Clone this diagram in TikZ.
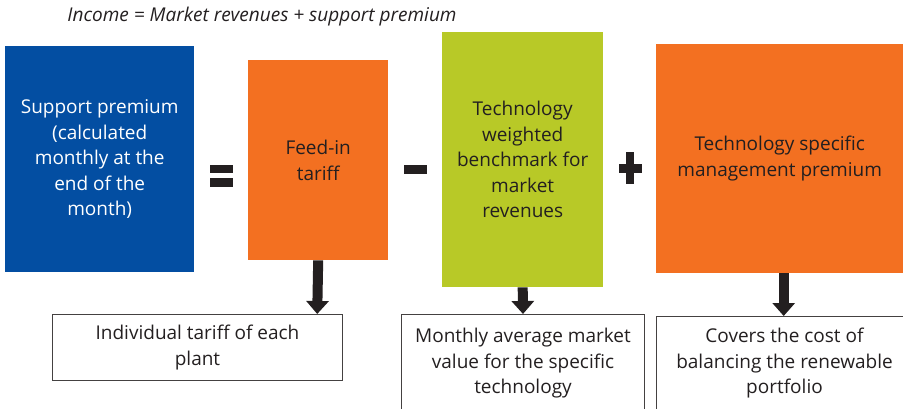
\documentclass[tikz,border=0pt]{standalone}
\usepackage{xcolor}
\usepackage{fontspec}
\setmainfont{Open Sans}
\usepackage{tikz}
\usetikzlibrary{arrows.meta, positioning}

\definecolor{premblue}{HTML}{034EA2}
\definecolor{tariffor}{HTML}{F37021}
\definecolor{benchgreen}{HTML}{B8C927}
\definecolor{inkgrey}{HTML}{231F20}

\tikzset{
  block/.style={anchor=north west, inner sep=0pt, align=center,
    text=inkgrey, font=\fontsize{19}{25.5}\selectfont},
  note/.style={block, draw=inkgrey!85, line width=1pt},
  down/.style={inkgrey, line width=10pt, -{Triangle[width=22pt,length=13pt]}},
}

\begin{document}
\begin{tikzpicture}[x=1pt, y=-1pt]
  \clip (0,0) rectangle (903,409);

  % heading
  \node[font=\fontsize{19}{22}\selectfont\itshape, text=inkgrey] (income) at (262,17)
    {Income = Market revenues + support premium};

  % coloured blocks
  \node[block, fill=premblue, text=white, minimum width=189, minimum height=226] (support) at (5,46)
    {Support premium\\(calculated\\monthly at the\\end of the\\month)};
  \node[block, fill=tariffor, minimum width=140, minimum height=200] (feedin) at (248,60)
    {Feed-in\\tariff};
  \node[block, fill=benchgreen, minimum width=161, minimum height=255] (bench) at (442,32)
    {Technology\\weighted\\benchmark for\\market\\revenues};
  \node[block, fill=tariffor, minimum width=247, minimum height=229] (mgmt) at (656,44)
    {Technology specific\\management premium};

  % operators
  \fill[inkgrey] (210,165) rectangle (233,173);
  \fill[inkgrey] (210,178) rectangle (233,187);
  \fill[inkgrey] (404,165) rectangle (427,174);
  \fill[inkgrey] (619,164) rectangle (642,173);
  \fill[inkgrey] (626,152) rectangle (634,184);

  % explanation boxes
  \node[note, minimum width=290, minimum height=66] (indiv) at (52,314)
    {Individual tariff of each\\plant};
  \node[note, minimum width=243, minimum height=98] (average) at (401,314)
    {Monthly average market\\value for the specific\\technology};
  \node[note, minimum width=256, minimum height=94] (balance) at (656,316)
    {Covers the cost of\\balancing the renewable\\portfolio};

  % arrows
  \draw[down] (feedin.south) -- ([xshift=-1pt]feedin.south |- indiv.north);
  \draw[down] (bench.south) -- (average.north);
  \draw[down] ([xshift=4pt]mgmt.south) -- ([xshift=4pt]mgmt.south |- balance.north);
\end{tikzpicture}
\end{document}
